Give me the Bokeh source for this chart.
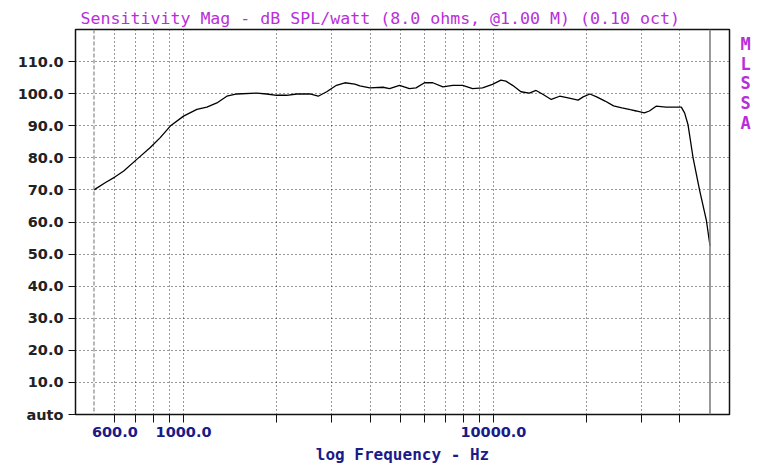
from bokeh.plotting import figure
from bokeh.models import (Range1d, FixedTicker, NumeralTickFormatter, LinearAxis,
                          Span, Title)
from bokeh.embed import file_html
from bokeh.resources import INLINE

# ---- data ----
freq_hz = [514, 560, 600, 641, 708, 781, 841, 906, 1000, 1104, 1189, 1281, 1379, 1486,
           1723, 1855, 1998, 2152, 2318, 2560, 2720, 2897, 3115, 3316, 3570, 3707, 3991,
           4402, 4623, 4977, 5358, 5628, 5993, 6371, 6870, 7390, 7958, 8567, 9224, 9930,
           10573, 10970, 11530, 12270, 13060, 13730, 14430, 15370, 16360, 17420, 18770,
           19480, 20480, 21540, 22930, 24420, 25980, 27660, 28880, 30700, 31870, 33500,
           36070, 40400, 41400, 42450, 44080, 46330, 48700, 50000]
spl_db = [70.0, 72.3, 74.0, 75.9, 79.6, 83.2, 86.3, 89.9, 93.0, 95.1, 95.8, 97.1, 99.2, 99.9,
          100.2, 99.9, 99.5, 99.5, 99.9, 99.9, 99.2, 100.6, 102.6, 103.4, 103.0, 102.4, 101.8,
          102.0, 101.6, 102.6, 101.6, 101.8, 103.4, 103.4, 102.1, 102.6, 102.6, 101.6, 101.8,
          102.9, 104.2, 103.9, 102.6, 100.6, 100.2, 101.0, 99.8, 98.2, 99.2, 98.7, 98.0, 99.0,
          99.9, 99.0, 97.7, 96.2, 95.6, 95.0, 94.6, 94.0, 94.6, 96.1, 95.8, 95.8, 94.0, 90.4,
          80.1, 69.7, 60.4, 52.6]

x_ticks = [600, 700, 800, 900, 1000, 2000, 3000, 4000, 5000, 6000, 7000, 8000, 9000,
           10000, 20000, 30000, 40000]
x_labels = {600: "600.0", 1000: "1000.0", 10000: "10000.0"}
y_ticks = [0, 10, 20, 30, 40, 50, 60, 70, 80, 90, 100, 110]
side_letters = ["M", "L", "S", "S", "A"]

TITLE = "Sensitivity Mag - dB SPL/watt (8.0 ohms, @1.00 M) (0.10 oct)"
XLABEL = "log Frequency - Hz"

MAGENTA = "#b82fd8"
NAVY = "#1a1a88"

p = figure(width=753, height=466, x_axis_type="log",
           x_range=Range1d(448, 57800), y_range=Range1d(0, 120),
           output_backend="svg", toolbar_location=None,
           min_border_left=75, min_border_right=23, min_border_top=29,
           min_border_bottom=52)

p.title = Title(text=TITLE, text_color=MAGENTA, text_font="DejaVu Sans Mono",
                text_font_size="16.6px", text_font_style="normal", align="left",
                offset=5, standoff=3)

p.background_fill_color = "white"
p.border_fill_color = "white"
p.outline_line_color = "#111111"
p.outline_line_width = 1.5

# x axis
xa = p.xaxis[0]
xa.ticker = FixedTicker(ticks=x_ticks)
xa.major_label_overrides = {t: x_labels.get(t, "") for t in x_ticks}
xa.minor_tick_line_color = None
xa.major_tick_out = 8
xa.major_tick_in = 0
xa.major_tick_line_color = "#111111"
xa.axis_line_color = None
xa.major_label_text_font = "DejaVu Sans"
xa.major_label_text_font_style = "bold"
xa.major_label_text_font_size = "14.5px"
xa.major_label_text_color = NAVY
xa.major_label_standoff = 4
xa.axis_label = XLABEL
xa.axis_label_text_font = "DejaVu Sans Mono"
xa.axis_label_text_font_style = "bold"
xa.axis_label_text_font_size = "16px"
xa.axis_label_text_color = NAVY
xa.axis_label_standoff = 5

# y axis
ya = p.yaxis[0]
ya.ticker = FixedTicker(ticks=y_ticks)
ya.formatter = NumeralTickFormatter(format="0.0")
ya.major_label_overrides = {0: "auto"}
ya.minor_tick_line_color = None
ya.major_tick_out = 7
ya.major_tick_in = 0
ya.major_tick_line_color = "#111111"
ya.axis_line_color = None
ya.major_label_text_font = "DejaVu Sans"
ya.major_label_text_font_style = "bold"
ya.major_label_text_font_size = "14.5px"
ya.major_label_text_color = "#222222"
ya.major_label_standoff = 5

# right-hand vertical "MLSSA" tag
side_pos = [115.6, 109.4, 103.2, 97.0, 90.8]
ra = LinearAxis(ticker=FixedTicker(ticks=side_pos),
                major_label_overrides={v: s for v, s in zip(side_pos, side_letters)},
                axis_line_color=None, major_tick_line_color=None,
                minor_tick_line_color=None,
                major_label_text_color=MAGENTA,
                major_label_text_font="DejaVu Sans Mono",
                major_label_text_font_style="bold",
                major_label_text_font_size="17px",
                major_label_standoff=5)
p.add_layout(ra, "right")

# grids
p.xgrid.grid_line_color = "#333333"
p.xgrid.grid_line_dash = "1 3"
p.xgrid.grid_line_width = 1
p.ygrid.grid_line_color = "#333333"
p.ygrid.grid_line_dash = "1 3"
p.ygrid.grid_line_width = 1

# data-range markers
p.add_layout(Span(location=freq_hz[0], dimension="height", line_color="#888888",
                  line_dash="4 2", line_width=1.2))
p.add_layout(Span(location=freq_hz[-1], dimension="height", line_color="#808080",
                  line_width=1.6))

p.line(freq_hz, spl_db, line_color="black", line_width=1.3)

open("out.html", "w").write(file_html(p, INLINE))
